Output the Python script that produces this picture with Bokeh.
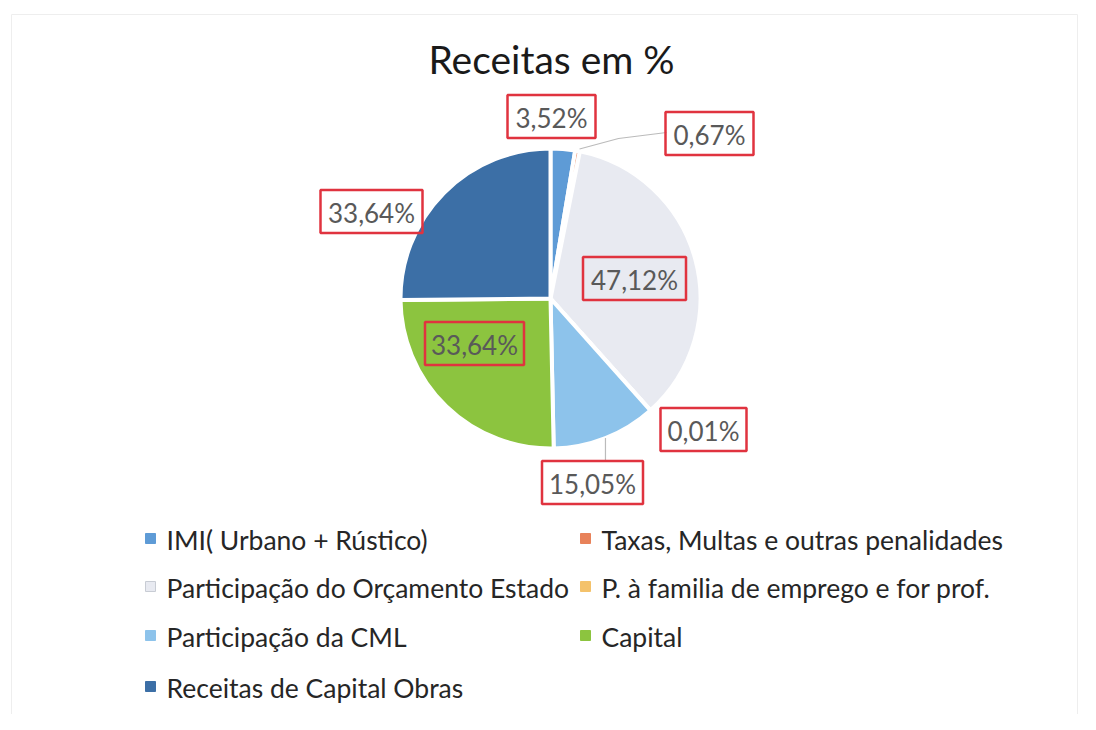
import math
from bokeh.plotting import figure
from bokeh.models import Range1d
from bokeh.core.properties import value
from bokeh.embed import file_html
from bokeh.resources import INLINE

# ---- data ----
categories = ["IMI( Urbano + Rústico)", "Taxas, Multas e outras penalidades",
              "Participação do Orçamento Estado", "P. à familia de emprego e for prof.",
              "Participação da CML", "Capital", "Receitas de Capital Obras"]
values = [3.52, 0.67, 47.12, 0.01, 15.05, 33.64, 33.64]
labels = ["3,52%", "0,67%", "47,12%", "0,01%", "15,05%", "33,64%", "33,64%"]
colors = ["#5E9BD6", "#E8825A", "#E8EAF1", "#F4C26B", "#8DC3EB", "#8CC43F", "#3C6FA6"]
title = "Receitas em %"

# ---- layout (page pixel coordinates) ----
W, H = 1080, 714
def X(ix): return ix - 2
def Y(iy): return H + 2 - iy

FONT = "Lato"
cx, cy, R = 552, 300, 150
label_pos = [(553, 118), (711, 135), (636, 280), (705, 431), (594, 484), (476, 345), (373, 213)]
box_w = [88, 88, 103, 86, 101, 99, 102]
box_h = 43
legend_rows = [(0, 0), (1, 0), (0, 1), (1, 1), (0, 2), (1, 2), (0, 3)]
legend_col_x = [152, 587]
legend_row_y = [540, 588, 637, 688]

p = figure(width=W, height=H, x_range=Range1d(0, W), y_range=Range1d(0, H),
           output_backend="svg", toolbar_location=None, min_border=0)
p.axis.visible = False
p.grid.visible = False
p.outline_line_color = None
p.background_fill_color = "white"
p.border_fill_color = "white"

# faint chart border
p.rect(x=[X(546)], y=[Y(366)], width=[1066], height=[700], fill_color=None,
       line_color="#EEEEEE", line_width=1)

# title
p.text(x=[X(553)], y=[Y(60)], text=[title], text_font=value(FONT), text_font_size="39px",
       text_color="#1a1a1a", text_align="center", text_baseline="middle")

# pie wedges (clockwise from 12 o'clock)
total = sum(values)
starts, ends, mids = [], [], []
cum = 0.0
for v in values:
    a0 = math.pi / 2 - 2 * math.pi * cum / total
    cum += v
    a1 = math.pi / 2 - 2 * math.pi * cum / total
    starts.append(a0); ends.append(a1); mids.append((a0 + a1) / 2)

p.wedge(x=[X(cx)] * len(values), y=[Y(cy)] * len(values), radius=R,
        start_angle=starts, end_angle=ends, direction="clock",
        fill_color=colors, line_color="white", line_width=4)

# leader lines
m = mids[1]
ex, ey = X(cx) + R * math.cos(m), Y(cy) + R * math.sin(m)
p.line(x=[ex + 2, X(620), X(668)], y=[ey + 2, Y(140), Y(134)], line_color="#BBBBBB", line_width=1.2)
m = mids[4]
ex, ey = X(cx) + R * math.cos(m), Y(cy) + R * math.sin(m)
p.line(x=[ex, ex], y=[ey, Y(462)], line_color="#BBBBBB", line_width=1.2)

# data labels with red boxes
for (lx, ly), bw, t in zip(label_pos, box_w, labels):
    p.rect(x=[X(lx)], y=[Y(ly)], width=[bw], height=[box_h], fill_color=None,
           line_color="#E0333F", line_width=2.5)
    p.text(x=[X(lx)], y=[Y(ly) - 1], text=[t], text_font=value(FONT), text_font_size="26px",
           text_color="#595959", text_align="center", text_baseline="middle")

# legend
for cat, col, (c, r) in zip(categories, colors, legend_rows):
    sx, sy = legend_col_x[c], legend_row_y[r]
    p.rect(x=[X(sx)], y=[Y(sy)], width=[10], height=[10], fill_color=col,
           line_color="#C8CCD4" if col == "#E8EAF1" else col, line_width=1)
    p.text(x=[X(sx + 16)], y=[Y(sy) - 1], text=[cat], text_font=value(FONT), text_font_size="26.5px",
           text_color="#262626", text_align="left", text_baseline="middle")

open("out.html", "w").write(file_html(p, INLINE))
